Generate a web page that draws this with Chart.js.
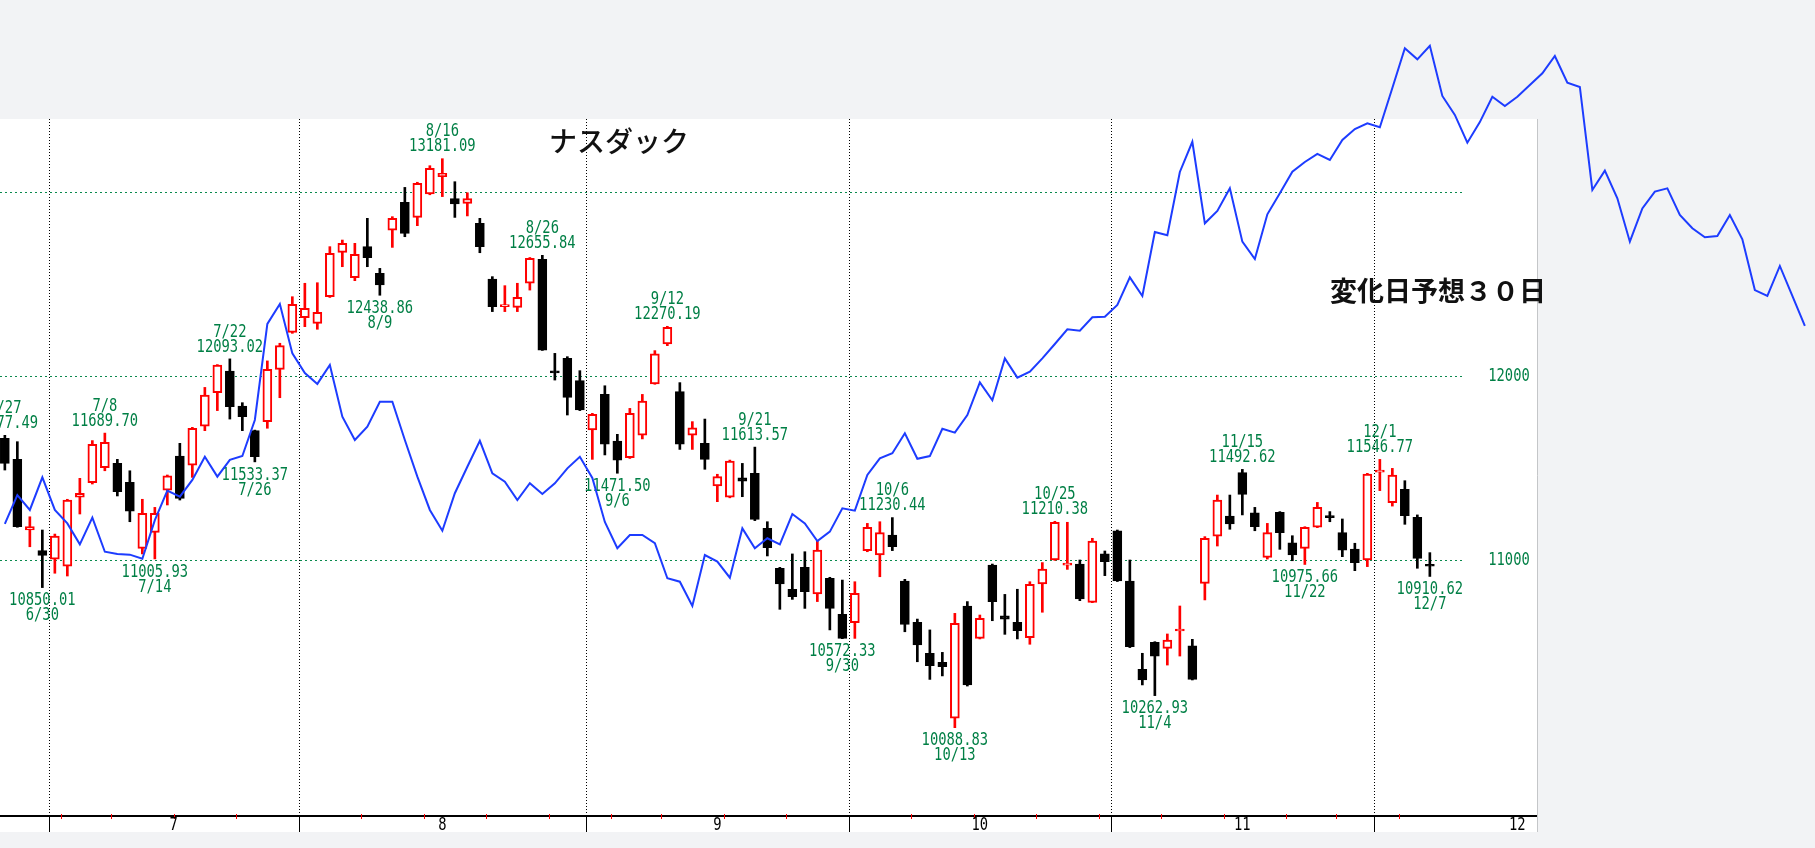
<!DOCTYPE html>
<html><head><meta charset="utf-8">
<script src="https://cdn.jsdelivr.net/npm/chart.js@4.4.1/dist/chart.umd.min.js"></script>
<style>html,body{margin:0;padding:0;background:#f2f3f5;overflow:hidden}canvas{display:block}</style>
</head><body>
<canvas id="c" width="1815" height="848"></canvas>
<script>
const dates = ['6/27','6/28','6/29','6/30',
'7/1','7/5','7/6','7/7','7/8','7/11','7/12','7/13','7/14','7/15','7/18','7/19','7/20','7/21','7/22','7/25','7/26','7/27','7/28','7/29',
'8/1','8/2','8/3','8/4','8/5','8/8','8/9','8/10','8/11','8/12','8/15','8/16','8/17','8/18','8/19','8/22','8/23','8/24','8/25','8/26','8/29','8/30','8/31',
'9/1','9/2','9/6','9/7','9/8','9/9','9/12','9/13','9/14','9/15','9/16','9/19','9/20','9/21','9/22','9/23','9/26','9/27','9/28','9/29','9/30',
'10/3','10/4','10/5','10/6','10/7','10/10','10/11','10/12','10/13','10/14','10/17','10/18','10/19','10/20','10/21','10/24','10/25','10/26','10/27','10/28','10/31',
'11/1','11/2','11/3','11/4','11/7','11/8','11/9','11/10','11/11','11/14','11/15','11/16','11/17','11/18','11/21','11/22','11/23','11/25','11/28','11/29','11/30',
'12/1','12/2','12/5','12/6','12/7'];

const opens = [11661,11547,11163,11051,11004,10967,11341,11420,11502,11525,
 11422,11063,11150,11380,11565,11516,11728,11909,12027,11837,
 11703,11752,12036,12237,12317,12286,12431,12672,12534,12703,
 12558,12793,12944,12862,12989,13084,12964,12938,12830,12527,
 12377,12373,12504,12634,12022,12096,11975,11707,11900,11647,
 11556,11679,11957,12174,11915,11679,11634,11402,11341,11447,
 11471,11172,10955,10841,10960,10815,10900,10705,10659,11051,
 11027,11136,10886,10661,10493,10444,10140,10750,10574,10973,
 10697,10661,10578,10870,11000,10972,10978,10770,11033,11159,
 10886,10406,10553,10520,10614,10533,10873,11130,11239,11475,
 11257,11014,11259,11094,11063,11178,11234,11149,11060,11000,
 11478,11312,11384,11232,10970];

const highs = [11677.49,11643,11235,11163,11141,11330,11444,11649,11689.70,11547,
 11485,11330,11286,11462,11634,11721,11938,12062,12093.02,11855,
 11706,12082,12178,12431,12504,12507,12703,12739,12721,12857,
 12585,12866,13025,13053,13143,13181.09,13056,12996,12857,12540,
 12491,12504,12644,12655.84,12123,12105,12029,11797,11947,11683,
 11824,11900,12138,12270.19,11964,11752,11766,11466,11543,11525,
 11613.57,11208,10960,11033,11045,11103,10906,10891,10882,11199,
 11208,11230.44,10895,10679,10620,10498,10710,10774,10701,10978,
 10813,10841,10882,10986,11210.38,11205,11000,11118,11049,11163,
 11000,10493,10556,10598,10750,10569,11127,11353,11353,11492.62,
 11286,11199,11263,11132,11181,11313,11263,11223,11091,11471,
 11546.77,11498,11431,11245,11040];

const lows = [11489,11178,11072,10850.01,10928,10913,11250,11413,11485,11348,
 11208,11033,11005.93,11299,11326,11449,11703,11812,11766,11703,
 11533.37,11716,11882,12232,12268,12254,12427,12594,12518,12594,
 12438.86,12699,12757,12817,12985,12975,12862,12870,12670,12350,
 12350,12350,12467,12139,11978,11788,11812,11547,11571,11471.50,
 11552,11658,11955,12165,11601,11601,11493,11317,11338,11344,
 11214,11022,10732,10786,10737,10774,10620,10572.33,10574,11045,
 10909,11051,10610,10447,10351,10370,10088.83,10315,10571,10670,
 10596,10571,10542,10716,10998,10949,10779,10768,10915,10883,
 10524,10321,10262.93,10429,10478,10348,10783,11076,11167,11245,
 11159,11005,11058,10996,10975.66,11176,11208,11018,10942,10964,
 11377,11293,11194,10955,10910.62];

const closes = [11525,11181,11181,11025,11130,11326,11362,11629,11640,11371,
 11266,11254,11254,11457,11335,11716,11897,12060,11833,11779,
 11562,12036,12165,12390,12368,12346,12667,12721,12661,12643,
 12495,12857,12775,13047,13129,13102,12935,12964,12703,12377,
 12382,12428,12640,12141,12017,11884,11815,11792,11630,11543,
 11797,11864,12120,12264,11629,11719,11547,11453,11538,11429,
 11221,11067,10870,10801,10828,11054,10737,10574,10819,11178,
 11149,11072,10650,10538,10426,10420,10656,10321,10683,10774,
 10678,10616,10868,10951,11205,10976,10788,11103,10991,10886,
 10529,10348,10478,10565,10620,10351,11118,11326,11196,11357,
 11181,11149,11149,11027,11178,11286,11230,11054,10986,11467,
 11482,11462,11241,11009,10966];

// 変化日予想 (forecast line), one value per trading day, 30 days beyond 12/7
const forecast = [11196,11353,11272,11449,11272,11199,11085,11230,11045,11033,
 11029,11007,11217,11377,11344,11435,11561,11453,11544,11565,
 11761,12283,12391,12123,12016,11957,12060,11779,11652,11725,
 11860,11860,11652,11453,11272,11159,11363,11507,11648,11471,
 11426,11326,11417,11359,11417,11498,11561,11446,11207,11064,
 11136,11136,11091,10901,10882,10750,11027,10991,10904,11172,
 11064,11118,11085,11250,11199,11103,11154,11281,11268,11462,
 11552,11580,11689,11550,11565,11713,11692,11788,11965,11868,
 12096,11991,12023,12096,12174,12254,12246,12319,12322,12386,
 12536,12435,12783,12765,13109,13273,12830,12897,13020,12730,
 12636,12879,12993,13110,13163,13207,13174,13283,13342,13373,
 13352,13565,13781,13721,13795,13522,13419,13268,13380,13518,
 13467,13518,13582,13645,13739,13594,13571,13011,13116,12966,
 12730,12911,13002,13020,12875,12803,12754,12761,12875,12743,
 12467,12435,12598,12435,12272];

const gridValues = [11000, 12000, 13000];
const axisLabelValues = [11000, 12000];
const monthNames = ['7','8','9','10','11','12'];
const monthStarts = [4, 24, 47, 68, 89, 110];
const monthMids = [13.5, 35, 57, 78, 99, 121];
const weekStarts = [5,9,14,19,29,34,39,44,49,53,58,63,73,78,83,88,93,98,103,107,112];
const highMarks = [0, 8, 18, 35, 43, 53, 60, 71, 84, 99, 110];
const lowMarks = [3, 12, 20, 30, 49, 67, 76, 92, 104, 114];
const titleText = 'ナスダック';
const noteText = '変化日予想３０日';

const X_MIN = -0.388, X_MAX = 122.572;
const Y_MIN = 9614.1, Y_MAX = 13396.8;

const UP = '#ff0000', DOWN = '#000000', GREEN = '#007f45', BLUE = '#1d3cff';
const idx = dates.map((_, i) => i);
const isUp = idx.map(i => closes[i] >= opens[i]);

function tallText(ctx, str, x, y, color) {
  ctx.save();
  ctx.translate(x, y);
  ctx.scale(1, 1.32);
  ctx.font = '13.8px "DejaVu Sans Mono"';
  ctx.fillStyle = color;
  ctx.textAlign = 'center';
  ctx.textBaseline = 'middle';
  ctx.fillText(str, 0, 0);
  ctx.restore();
}

const framePlugin = {
  id: 'frame',
  beforeDraw(chart) {
    const {ctx, chartArea: a, scales: {x, y}} = chart;
    ctx.save();
    ctx.fillStyle = '#f2f3f5';
    ctx.fillRect(0, 0, chart.width, chart.height);
    ctx.fillStyle = '#ffffff';
    ctx.fillRect(a.left, a.top, a.right - a.left, a.bottom - a.top + 17);
    ctx.strokeStyle = '#c4c6c8'; ctx.lineWidth = 1;
    ctx.beginPath(); ctx.moveTo(a.right + 0.5, a.top); ctx.lineTo(a.right + 0.5, a.bottom + 17); ctx.stroke();
    ctx.strokeStyle = '#0a8a4e'; ctx.setLineDash([2, 3]);
    gridValues.forEach(v => {
      const py = Math.round(y.getPixelForValue(v)) + 0.5;
      ctx.beginPath(); ctx.moveTo(a.left, py); ctx.lineTo(a.right - 75, py); ctx.stroke();
    });
    ctx.strokeStyle = '#000'; ctx.setLineDash([1, 2]);
    monthStarts.forEach(s => {
      const px = Math.round(x.getPixelForValue(s - 0.5)) + 0.5;
      ctx.beginPath(); ctx.moveTo(px, a.top); ctx.lineTo(px, a.bottom); ctx.stroke();
    });
    ctx.setLineDash([]);
    ctx.strokeStyle = '#000'; ctx.lineWidth = 2;
    ctx.beginPath(); ctx.moveTo(a.left, a.bottom + 1); ctx.lineTo(a.right, a.bottom + 1); ctx.stroke();
    ctx.lineWidth = 1;
    monthStarts.forEach(s => {
      const px = Math.round(x.getPixelForValue(s - 0.5)) + 0.5;
      ctx.beginPath(); ctx.moveTo(px, a.bottom + 1); ctx.lineTo(px, a.bottom + 17); ctx.stroke();
    });
    ctx.strokeStyle = '#ff0000';
    weekStarts.forEach(s => {
      const px = Math.round(x.getPixelForValue(s - 0.5)) + 0.5;
      ctx.beginPath(); ctx.moveTo(px, a.bottom - 1); ctx.lineTo(px, a.bottom + 4); ctx.stroke();
    });
    monthNames.forEach((m, k) => tallText(ctx, m, x.getPixelForValue(monthMids[k]), a.bottom + 10.5, '#000'));
    axisLabelValues.forEach(v => tallText(ctx, String(v), a.right - 28, y.getPixelForValue(v), GREEN));
    ctx.restore();
  },
  beforeDatasetsDraw(chart) {
    const {ctx, scales: {x, y}} = chart;
    highMarks.forEach(i => {
      const px = x.getPixelForValue(i), py = y.getPixelForValue(highs[i]);
      tallText(ctx, highs[i].toFixed(2), px, py - 12, GREEN);
      tallText(ctx, dates[i], px, py - 27, GREEN);
    });
    lowMarks.forEach(i => {
      const px = x.getPixelForValue(i), py = y.getPixelForValue(lows[i]);
      tallText(ctx, lows[i].toFixed(2), px, py + 13, GREEN);
      tallText(ctx, dates[i], px, py + 28, GREEN);
    });
  },
  afterDatasetsDraw(chart) {
    const {ctx} = chart;
    ctx.save();
    ctx.fillStyle = '#111';
    ctx.textBaseline = 'middle';
    ctx.textAlign = 'center';
    ctx.font = '500 28px "Noto Sans CJK JP"';
    ctx.fillText(titleText, 619, 141);
    ctx.textAlign = 'left';
    ctx.font = 'bold 27px "Noto Sans CJK JP"';
    ctx.fillText(noteText, 1330, 291);
    ctx.restore();
  }
};

new Chart(document.getElementById('c'), {
  type: 'bar',
  data: {
    datasets: [
      { type: 'line', label: '変化日予想', data: forecast.map((v, i) => ({x: i, y: v})),
        borderColor: BLUE, borderWidth: 2, pointRadius: 0, tension: 0, clip: false, order: 0 },
      { label: 'body', data: idx.map(i => ({x: i, y: [opens[i], closes[i]]})),
        backgroundColor: idx.map(i => isUp[i] ? '#ffffff' : DOWN),
        borderColor: idx.map(i => isUp[i] ? UP : DOWN),
        borderWidth: 2, borderSkipped: false, barThickness: 9, grouped: false, minBarLength: 2, order: 1 },
      { label: 'wick', data: idx.map(i => ({x: i, y: [lows[i], highs[i]]})),
        backgroundColor: idx.map(i => isUp[i] ? UP : DOWN),
        borderWidth: 0, barThickness: 2, grouped: false, order: 2 }
    ]
  },
  options: {
    responsive: false, animation: false, devicePixelRatio: 1, events: [],
    layout: {padding: {left: 0, top: 119, right: 278, bottom: 33}},
    plugins: {legend: {display: false}, tooltip: {enabled: false}},
    scales: {
      x: {type: 'linear', display: false, bounds: 'data', offset: false, grid: {offset: false},
          afterDataLimits(s) { s.min = X_MIN; s.max = X_MAX; }},
      y: {type: 'linear', display: false, bounds: 'data', min: Y_MIN, max: Y_MAX}
    }
  },
  plugins: [framePlugin]
});
</script>
</body></html>
